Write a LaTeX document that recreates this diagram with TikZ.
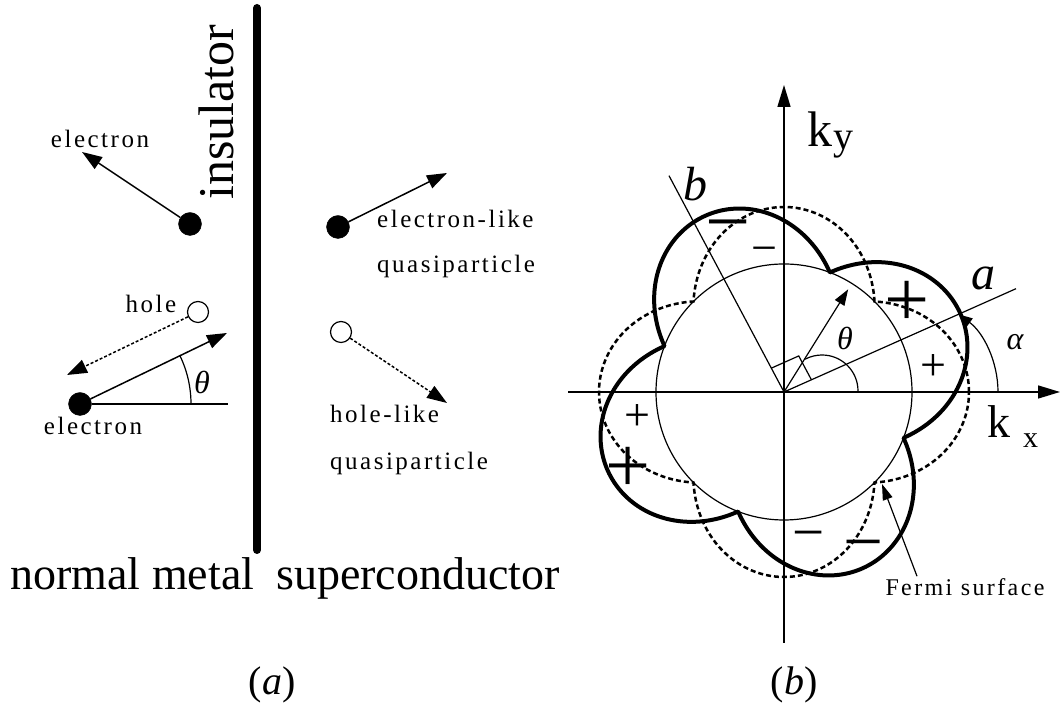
\documentclass[tikz,border=0pt]{standalone}
\usepackage{fontspec}
\setmainfont{Liberation Serif}
\newfontfamily\labelfont[LetterSpace=10]{Liberation Serif}
\usetikzlibrary{arrows.meta,calc}

\begin{document}
\begin{tikzpicture}[x=1pt, y=1pt, >={Triangle[length=20pt,width=14pt]},
  bigtext/.style={font=\fontsize{46}{46}\selectfont, inner sep=0},
  smalllabel/.style={font=\labelfont\fontsize{25}{25}\selectfont, inner sep=0},
  particle/.style={circle, draw, fill=black, minimum size=23pt, inner sep=0},
  holept/.style={circle, draw, fill=white, line width=1.2pt, minimum size=21pt, inner sep=0},
  move/.style={->, line width=1.5pt},
  holemove/.style={->, line width=1.5pt, dash pattern=on 3pt off 2pt},
  kaxis/.style={->, line width=1.5pt, >={Triangle[length=22pt,width=13pt]}},
  thinline/.style={line width=1.2pt},
  greek/.style={font=\fontsize{32}{32}\selectfont\itshape, inner sep=0},
  signbig/.style={font=\fontsize{80}{80}\selectfont, inner sep=0, anchor=base, yshift=-20pt, text height=0.55em, text depth=0pt},
  signsmall/.style={font=\fontsize{46}{46}\selectfont, inner sep=0, anchor=base, yshift=-11.5pt, text height=0.55em, text depth=0pt}]
  \useasboundingbox (0,0) rectangle (1061,708);

  % (a) insulator between the two sides
  \coordinate (bartop) at (257,700);
  \coordinate (barbot) at (257,158);
  \draw[line width=8pt, line cap=round] (bartop) -- (barbot);
  \node[font=\fontsize{50}{50}\selectfont, rotate=90, anchor=base west, inner sep=0] (ins) at (233,508) {insulator};

  % reflected electron
  \node[particle] (e1) at (190,484) {};
  \coordinate (e1tip) at (82,556);
  \draw[move] (e1) -- (e1tip);
  \node[smalllabel, anchor=base] (e1lab) at (100,560) {electron};

  % Andreev reflected hole
  \node[holept] (h1) at (198,396) {};
  \coordinate (h1tip) at (67,333);
  \draw[holemove] (h1) -- (h1tip);
  \node[smalllabel, anchor=base] (h1lab) at (151,395) {hole};

  % incident electron
  \node[particle] (e2) at (80,304) {};
  \coordinate (e2tip) at (227,375);
  \coordinate (e2end) at (228,304);
  \draw[move] (e2) -- (e2tip);
  \draw[thinline] (e2) -- (e2end);
  \draw[thinline] ($(e2.center)+(111,0)$) arc[start angle=0, end angle=25.8, radius=111];
  \node[greek] (th1) at (202,326) {θ};
  \node[smalllabel, anchor=base] (e2lab) at (93,273) {electron};

  % transmitted quasiparticles
  \node[particle] (q1) at (338,481) {};
  \coordinate (q1tip) at (447,535);
  \draw[move] (q1) -- (q1tip);
  \node[smalllabel, anchor=base west] (q1lab) at (377,480) {electron-like};
  \node[smalllabel, anchor=base west] (q1lab2) at (377,435) {quasiparticle};
  \node[holept] (q2) at (341,376) {};
  \coordinate (q2tip) at (447,305);
  \draw[holemove] (q2) -- (q2tip);
  \node[smalllabel, anchor=base west] (q2lab) at (330,285) {hole-like};
  \node[smalllabel, anchor=base west] (q2lab2) at (330,238) {quasiparticle};

  \node[bigtext, anchor=base west] (nm) at (10,118) {normal metal};
  \node[bigtext, anchor=base west] (sc) at (276,118) {superconductor};
  \node[font=\fontsize{40}{40}\selectfont, inner sep=0] (capa) at (272,23) {(\textit{a})};
  \node[font=\fontsize{40}{40}\selectfont, inner sep=0] (capb) at (794,23) {(\textit{b})};

  % (b) pair potential in k space
  \begin{scope}[shift={(784,316)}]
    \coordinate (O) at (0,0);
    \coordinate (kxL) at (-216,0);
    \coordinate (kxR) at (276,0);
    \coordinate (kyB) at (0,-251);
    \coordinate (kyT) at (0,307);
    \draw[kaxis] (kxL) -- (kxR);
    \draw[kaxis] (kyB) -- (kyT);
    \node[font=\fontsize{50}{50}\selectfont, inner sep=0, anchor=base west] (ky) at (23,245) {k};
    \node[font=\fontsize{40}{40}\selectfont, inner sep=0, anchor=base west] (kysub) at (49,242) {y};
    \node[font=\fontsize{46}{46}\selectfont, inner sep=0, anchor=base west] (kx) at (203,-46) {k};
    \node[font=\fontsize{30}{30}\selectfont, inner sep=0, anchor=base west] (kxsub) at (239,-56) {x};

    % Fermi surface, d-wave along the axes, and rotated by alpha
    \draw[thinline] (O) circle[radius=128];
    \draw[line width=2.5pt, dash pattern=on 5pt off 3pt]
      plot[domain=0:360, samples=361] (\x:{128+57*abs(cos(2*\x))}) -- cycle;
    \draw[line width=4pt, line join=round]
      plot[domain=0:360, samples=361] (\x:{128+65*abs(cos(2*(\x-24)))}) -- cycle;

    % crystal axes
    \coordinate (aend) at (24:254);
    \coordinate (bend) at (118:245);
    \draw[thinline] (O) -- (aend);
    \draw[thinline] (O) -- (bend);
    \draw[thinline] (24:30) -- ($(24:30)+(118:27)$) -- (118:27);
    \node[font=\fontsize{48}{48}\selectfont\itshape, inner sep=0] (alab) at (199,114) {a};
    \node[font=\fontsize{48}{48}\selectfont\itshape, inner sep=0] (blab) at (-89,208) {b};

    % angles
    \coordinate (thtip) at (58:121);
    \draw[thinline, ->, >={Triangle[length=16pt,width=11pt]}] (O) -- (thtip);
    \draw[thinline] (74,1) arc[start angle=0, end angle=118, radius=36];
    \node[greek] (th2) at (61,54) {θ};
    \draw[thinline, ->, >={Triangle[length=14pt,width=10pt]}] (214,0) arc[start angle=0, end angle=54, radius=96];
    \node[greek] (al) at (231,50) {α};

    % signs of the lobes
    \node[signbig] (p1) at (123,85) {+};
    \node[signsmall] (p2) at (149,23) {+};
    \node[signsmall] (p3) at (-147,-27) {+};
    \node[signbig] (p4) at (-156,-81) {+};
    \node[signbig] (m1) at (-56,163) {−};
    \node[signsmall] (m2) at (-20,140) {−};
    \node[font=\fontsize{57}{57}\selectfont, inner sep=0, anchor=base, yshift=-14pt, text height=0.55em, text depth=0pt] (m3) at (25,-146) {−};
    \node[font=\fontsize{71}{71}\selectfont, inner sep=0, anchor=base, yshift=-18pt, text height=0.55em, text depth=0pt] (m4) at (80,-156) {−};

    % Fermi surface label
    \node[font=\labelfont\fontsize{24}{24}\selectfont, inner sep=0] (fermi) at (181,-195) {Fermi surface};
    \coordinate (fs) at (98,-92);
    \draw[thinline, ->, >={Triangle[length=16pt,width=10pt]}] ([xshift=-48pt, yshift=2pt]fermi.north) -- (fs);
  \end{scope}
\end{tikzpicture}
\end{document}
